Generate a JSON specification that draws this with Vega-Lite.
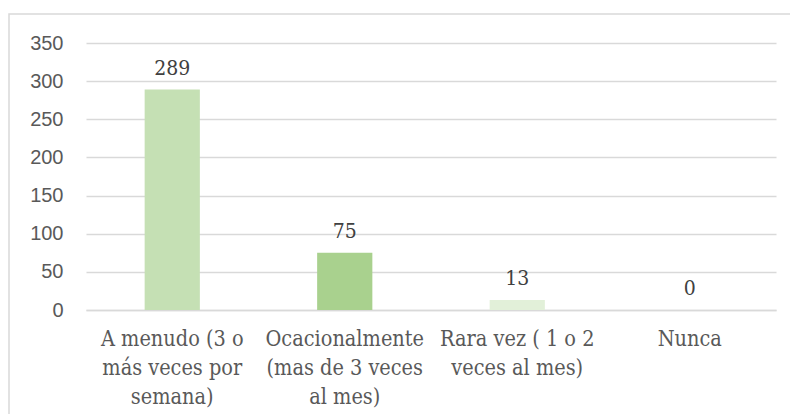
{
  "$schema": "https://vega.github.io/schema/vega-lite/v6.json",
  "autosize": {"type": "none"},
  "padding": {"left": 9, "top": 14, "right": -10, "bottom": -10},
  "width": 791,
  "height": 410,
  "background": "white",
  "config": {
    "view": {"stroke": "#d9d9d9", "strokeWidth": 1.5}
  },
  "data": {
    "values": [
      {"categoria": "A menudo (3 o más veces por semana)", "personas": 289},
      {"categoria": "Ocacionalmente (mas de 3 veces al mes)", "personas": 75},
      {"categoria": "Rara vez ( 1 o 2 veces al mes)", "personas": 13},
      {"categoria": "Nunca", "personas": 0}
    ]
  },
  "encoding": {
    "x": {
      "field": "categoria",
      "type": "nominal",
      "sort": null,
      "scale": {"range": [77, 767], "paddingInner": 0.68, "paddingOuter": 0.34},
      "axis": {
        "title": null,
        "orient": "bottom",
        "offset": -114,
        "ticks": false,
        "domain": true,
        "domainColor": "#d9d9d9",
        "domainWidth": 1.5,
        "labelAngle": 0,
        "labelFont": "'DejaVu Serif Condensed', 'DejaVu Serif'",
        "labelFontSize": 21.5,
        "labelColor": "#595959",
        "labelPadding": 18,
        "labelLineHeight": 29,
        "labelLimit": 300,
        "labelExpr": "datum.label == 'A menudo (3 o más veces por semana)' ? ['A menudo (3 o', 'más veces por', 'semana)'] : datum.label == 'Ocacionalmente (mas de 3 veces al mes)' ? ['Ocacionalmente', '(mas de 3 veces', 'al mes)'] : datum.label == 'Rara vez ( 1 o 2 veces al mes)' ? ['Rara vez ( 1 o 2', 'veces al mes)'] : datum.label"
      }
    },
    "y": {
      "field": "personas",
      "type": "quantitative",
      "scale": {"domain": [0, 350], "range": [296, 29], "nice": false},
      "axis": {
        "title": null,
        "offset": -77,
        "values": [0, 50, 100, 150, 200, 250, 300, 350],
        "ticks": false,
        "domain": false,
        "grid": true,
        "gridColor": "#d9d9d9",
        "gridWidth": 1.5,
        "labelFont": "Liberation Sans",
        "labelFontSize": 20,
        "labelColor": "#595959",
        "labelPadding": 23
      }
    }
  },
  "layer": [
    {
      "mark": {"type": "bar"},
      "encoding": {
        "color": {
          "field": "categoria",
          "type": "nominal",
          "sort": null,
          "scale": {"range": ["#c5e0b4", "#a9d18e", "#e2f0d9", "#c5e0b4"]},
          "legend": null
        }
      }
    },
    {
      "mark": {
        "type": "text",
        "baseline": "alphabetic",
        "dy": -15,
        "font": "'DejaVu Serif Condensed', 'DejaVu Serif'",
        "fontSize": 21,
        "color": "#404040"
      },
      "encoding": {
        "text": {"field": "personas", "type": "quantitative"}
      }
    }
  ]
}
